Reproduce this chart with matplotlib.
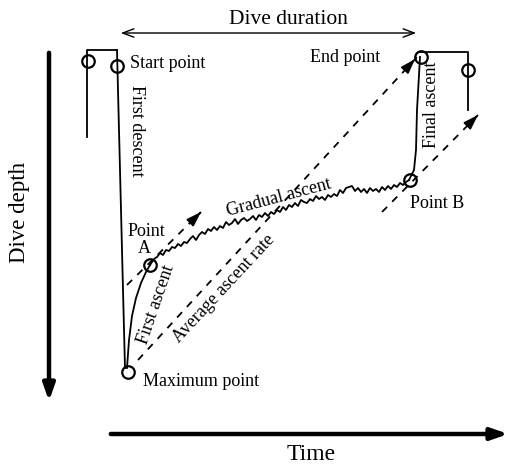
import matplotlib.pyplot as plt

plt.rcParams['font.family'] = ['Liberation Serif', 'DejaVu Serif']

# dive profile, in drawing units (x = time, y = depth, growing downwards)
pre_x = [87, 87, 117]
pre_y = [137, 50, 50]
descent_x = [117, 119, 121, 123, 125]
descent_y = [50, 130, 210, 290, 368]
first_ascent_x = [127, 129, 132, 136, 141, 146, 150]
first_ascent_y = [368, 340, 316, 298, 283, 272, 265]

gradual_x = [150, 154, 157, 160, 163, 166, 169, 172, 175, 178, 181, 184, 187, 190,
             193, 196, 199, 202, 205, 208, 211, 214, 217, 220, 223, 226, 229, 232,
             235, 238, 241, 244, 247, 250, 253, 256, 259, 262, 265, 268, 271, 274,
             277, 280, 283, 286, 289, 292, 295, 298, 301, 304, 307, 310, 313, 316,
             319, 322, 325, 328, 331, 334, 337, 340, 343, 346, 349, 352, 355, 358,
             361, 364, 367, 370, 373, 376, 379, 382, 385, 388, 391, 394, 397, 400,
             403, 406, 409]
gradual_y = [265, 259, 257, 253, 255, 250, 251, 247, 248, 244, 246, 242, 243, 239,
             236, 240, 235, 232, 234, 229, 231, 227, 230, 226, 228, 222, 225, 223,
             219, 224, 220, 218, 221, 219, 216, 220, 215, 217, 213, 216, 212, 214,
             210, 212, 207, 210, 205, 207, 203, 206, 200, 202, 203, 199, 201, 196,
             199, 197, 200, 195, 197, 194, 196, 190, 193, 188, 187, 186, 191, 188,
             192, 189, 193, 188, 191, 189, 192, 187, 190, 186, 189, 185, 187, 183,
             185, 182, 180]

final_x = [409, 414, 416, 417, 419, 420]
final_y = [180, 170, 150, 110, 75, 57]
post_x = [420, 468, 468]
post_y = [52, 52, 110]

# marked points
circle_x = [88, 117, 128, 150, 410, 421, 468]
circle_y = [61, 66, 372, 265, 180, 57, 70]

# dashed trend lines: start and arrow tip
trend_lines = [((138, 360), (417, 57)),
               ((127, 285), (201, 212)),
               ((382, 212), (478, 115))]

fig = plt.figure(figsize=(5.11, 4.65), dpi=100)
ax = fig.add_axes([0, 0, 1, 1])
ax.set_xlim(0, 511)
ax.set_ylim(465, 0)
ax.axis('off')

line_kw = dict(color='black', lw=1.3)
ax.plot(pre_x, pre_y, **line_kw)
ax.plot(descent_x, descent_y, **line_kw)
ax.plot(first_ascent_x, first_ascent_y, **line_kw)
ax.plot(gradual_x, gradual_y, **line_kw)
ax.plot(final_x, final_y, **line_kw)
ax.plot(post_x, post_y, **line_kw)
ax.plot(circle_x, circle_y, 'o', ms=9, mfc='none', mec='black', mew=1.6)

for (x0, y0), (x1, y1) in trend_lines:
    ax.plot([x0, x1], [y0, y1], color='black', lw=1.3, dashes=(4, 4))
    ax.annotate('', xy=(x1, y1), xytext=(x1 - (x1 - x0) * 0.04, y1 - (y1 - y0) * 0.04),
                arrowprops=dict(arrowstyle='-|>,head_length=0.9,head_width=0.3',
                                color='black', lw=1.2))

# axes arrows
ax.annotate('', xy=(49, 404), xytext=(49, 50),
            arrowprops=dict(arrowstyle='-|>,head_length=1.0,head_width=0.35',
                            color='black', lw=3.2))
ax.annotate('', xy=(511, 434), xytext=(108, 434),
            arrowprops=dict(arrowstyle='-|>,head_length=1.0,head_width=0.35',
                            color='black', lw=3.2))
ax.annotate('', xy=(419, 33), xytext=(118, 33),
            arrowprops=dict(arrowstyle='<->,head_length=0.8,head_width=0.3',
                            color='black', lw=1.0))

small = 13
ax.text(288, 19, 'Dive duration', fontsize=15.5, ha='center', va='center')
ax.text(20, 212, 'Dive depth', fontsize=16.5, ha='center', va='center', rotation=90)
ax.text(311, 454, 'Time', fontsize=17, ha='center', va='center')

ax.text(130, 63, 'Start point', fontsize=small, ha='left', va='center')
ax.text(380, 58, 'End point', fontsize=small, ha='right', va='center')
ax.text(143, 381, 'Maximum point', fontsize=small, ha='left', va='center')
ax.text(410, 203, 'Point B', fontsize=small, ha='left', va='center')
ax.text(146, 231, 'Point', fontsize=small, ha='center', va='center')
ax.text(144, 248, 'A', fontsize=small, ha='center', va='center')

ax.text(137, 131, 'First descent', fontsize=small, ha='center', va='center', rotation=-90)
ax.text(432, 105, 'Final ascent', fontsize=small, ha='center', va='center', rotation=90)
ax.text(279, 198, 'Gradual ascent', fontsize=small, ha='center', va='center', rotation=15)
ax.text(224, 289, 'Average ascent rate', fontsize=small, ha='center', va='center', rotation=47)
ax.text(156, 305, 'First ascent', fontsize=small, ha='center', va='center', rotation=71)

fig.savefig('out.png', dpi=100)
